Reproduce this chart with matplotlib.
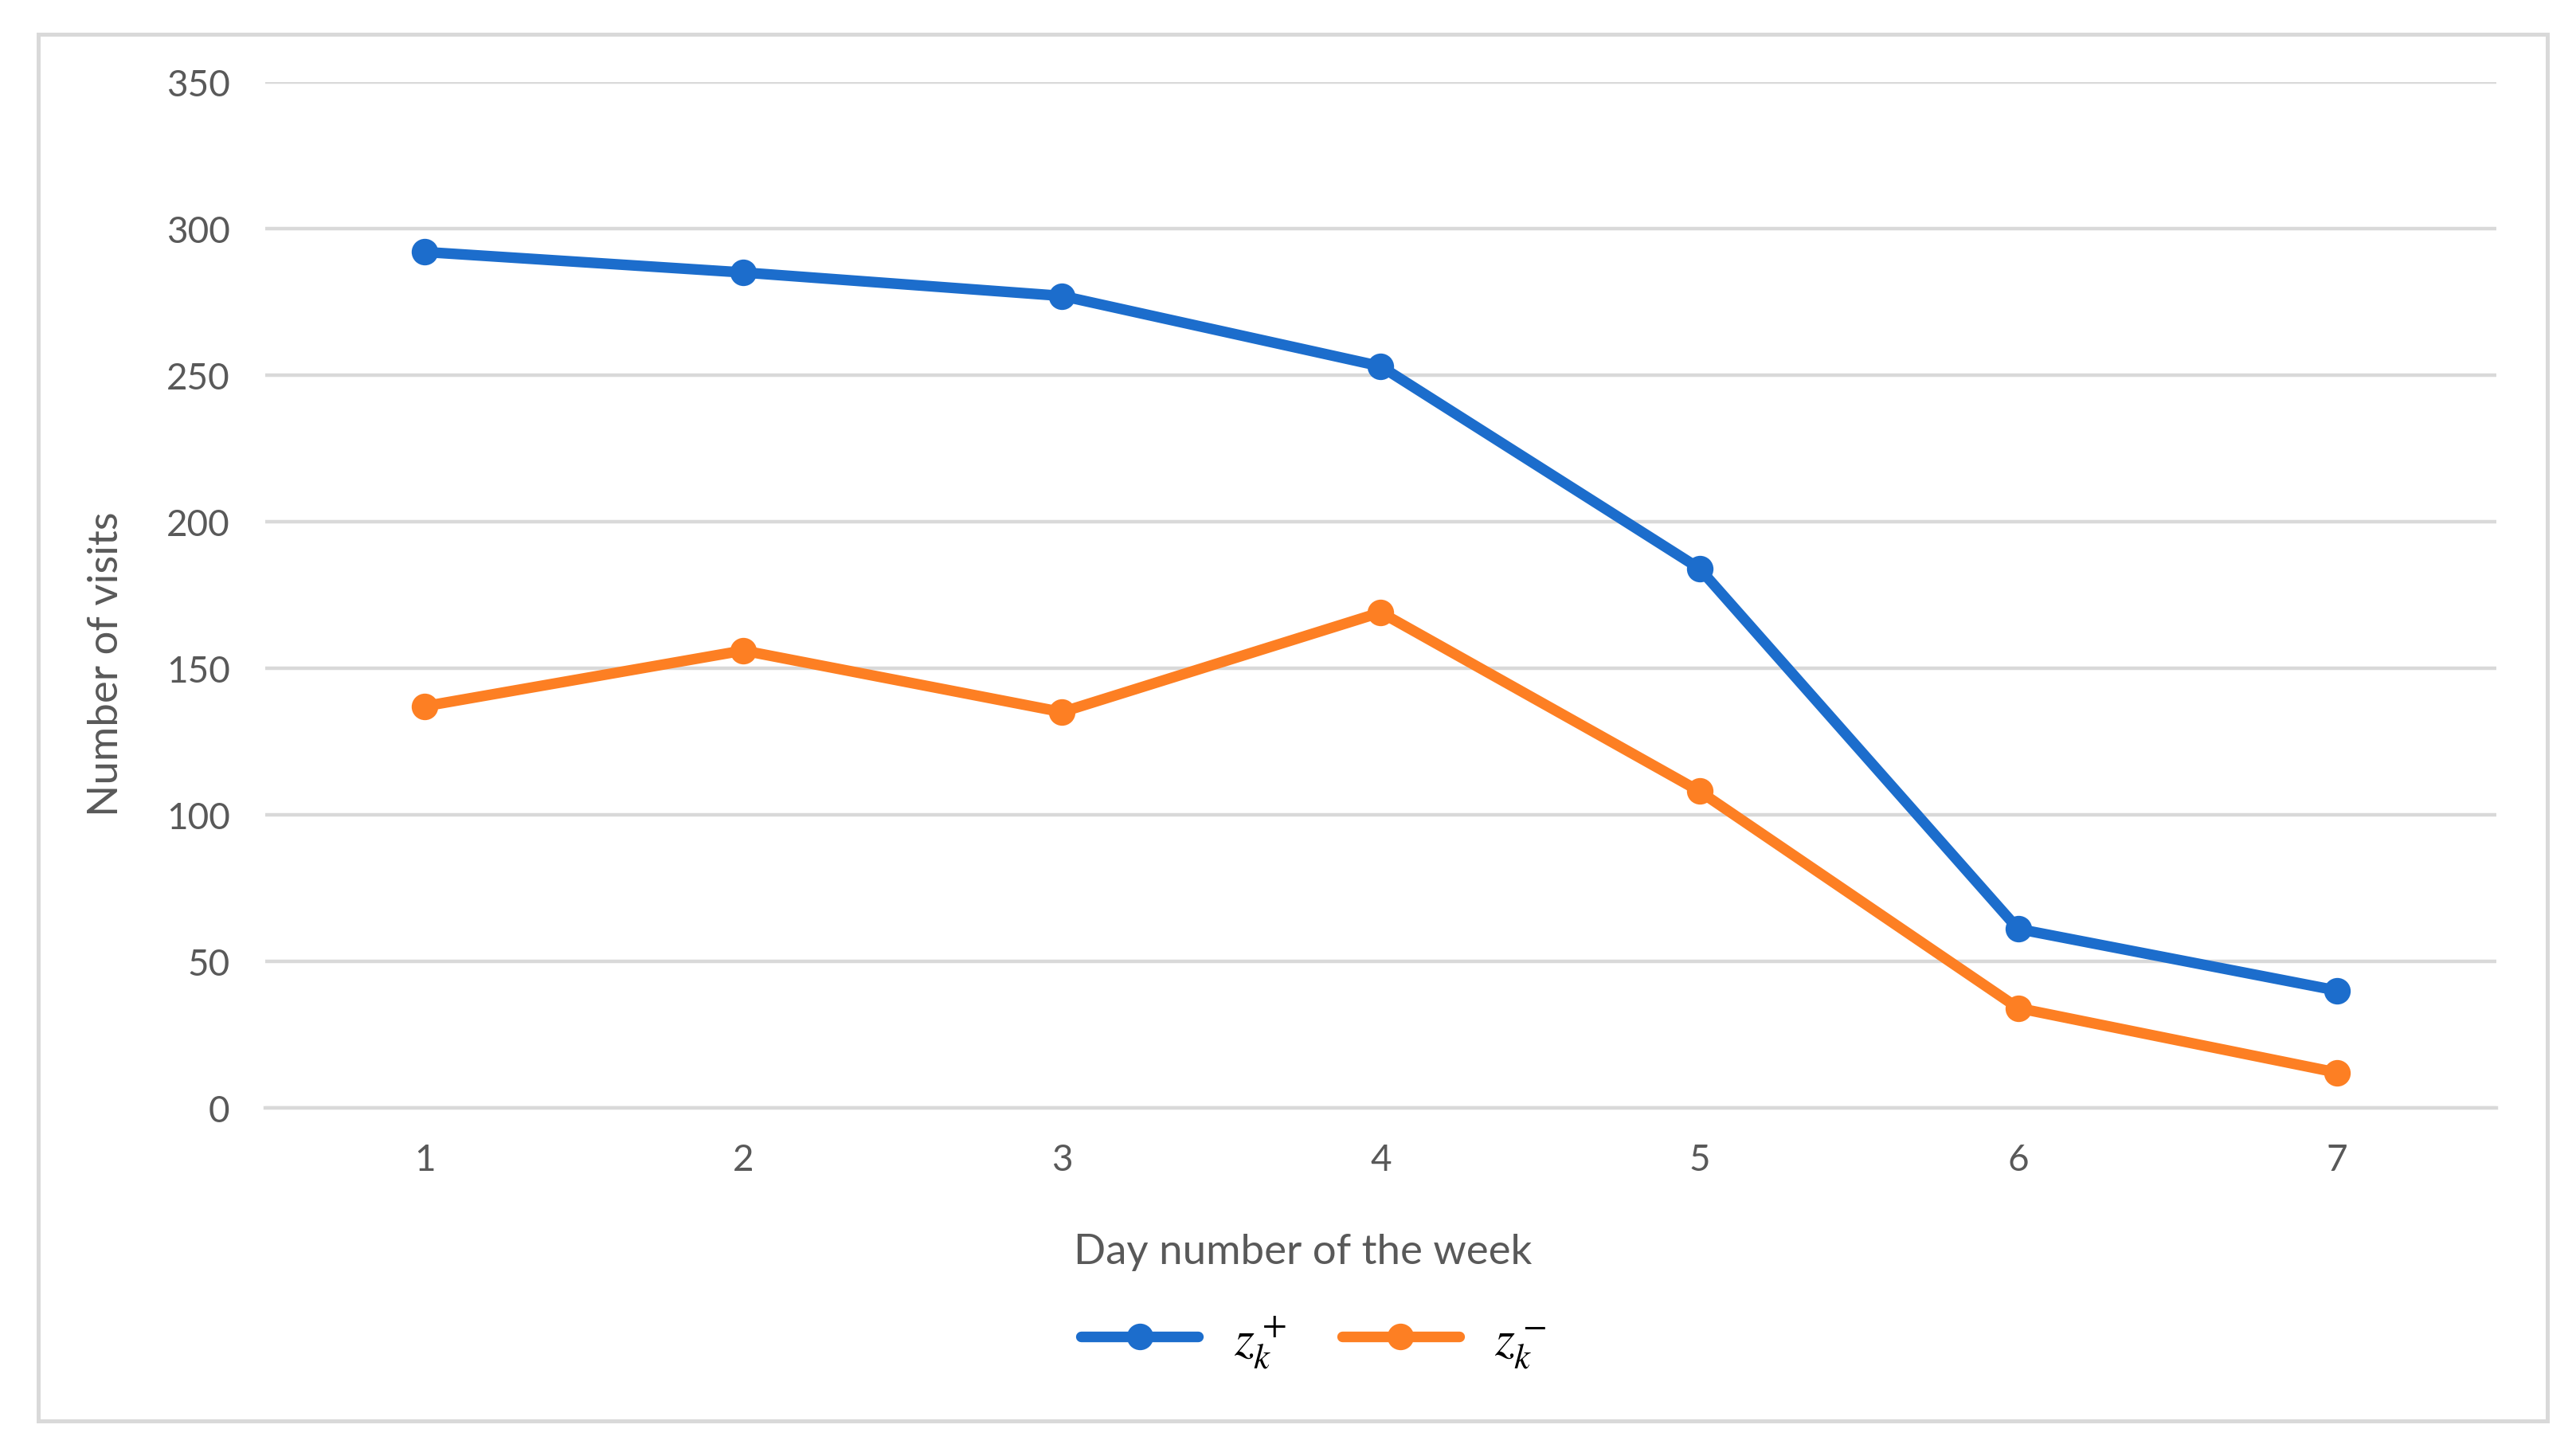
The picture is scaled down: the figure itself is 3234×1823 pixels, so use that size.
import matplotlib
matplotlib.use("Agg")
import matplotlib.pyplot as plt
from matplotlib.patches import Rectangle

days = [1, 2, 3, 4, 5, 6, 7]
z_plus = [292, 285, 277, 253, 184, 61, 40]
z_minus = [137, 156, 135, 169, 108, 34, 12]
y_ticks = [0, 50, 100, 150, 200, 250, 300, 350]
x_label = "Day number of the week"
y_label = "Number of visits"

plt.rcParams['font.family'] = ['Lato', 'DejaVu Sans']
plt.rcParams['mathtext.fontset'] = 'stix'

W, H, DPI = 3234, 1824, 200
fig = plt.figure(figsize=(W / DPI, H / DPI), dpi=DPI)
fig.patch.set_facecolor('white')

# outer chart border
fig.patches.append(Rectangle((0.0148, 0.0214), 0.989 - 0.0148, 0.976 - 0.0214,
                             transform=fig.transFigure, fill=False,
                             edgecolor='#d9d9d9', linewidth=1.8, zorder=0))

ax = fig.add_axes([0.103, 0.237, 0.969 - 0.103, 0.943 - 0.237])
blue = '#1c6dcc'
orange = '#fd7f23'
ax.plot(days, z_plus, color=blue, lw=4.8, marker='o', ms=11,
        label=r'$z_k^+$', solid_capstyle='round', zorder=3)
ax.plot(days, z_minus, color=orange, lw=4.8, marker='o', ms=11,
        label=r'$z_k^-$', solid_capstyle='round', zorder=3)

ax.set_xlim(0.5, 7.5)
ax.set_ylim(0, 350)
ax.set_yticks(y_ticks)
ax.set_xticks(days)
ax.grid(axis='y', color='#d9d9d9', lw=1.6)
ax.set_axisbelow(True)
for s in ['top', 'right', 'left']:
    ax.spines[s].set_visible(False)
ax.spines['bottom'].set_color('#d9d9d9')
ax.spines['bottom'].set_linewidth(1.6)
ax.tick_params(axis='both', length=0, labelsize=16.5, labelcolor='#595959')
ax.tick_params(axis='y', pad=16)
ax.tick_params(axis='x', pad=16)

ax.set_xlabel(x_label, fontsize=19, color='#595959')
ax.set_ylabel(y_label, fontsize=19, color='#595959')
ax.xaxis.set_label_coords(0.465, -0.122)
ax.yaxis.set_label_coords(-0.063, 0.433)

leg = fig.legend(loc='center', bbox_to_anchor=(0.51, 0.076), ncol=2,
                 frameon=False, fontsize=23, handlelength=2.3,
                 columnspacing=1.1, handletextpad=0.7)

fig.savefig('out.png', dpi=DPI, facecolor='white')
